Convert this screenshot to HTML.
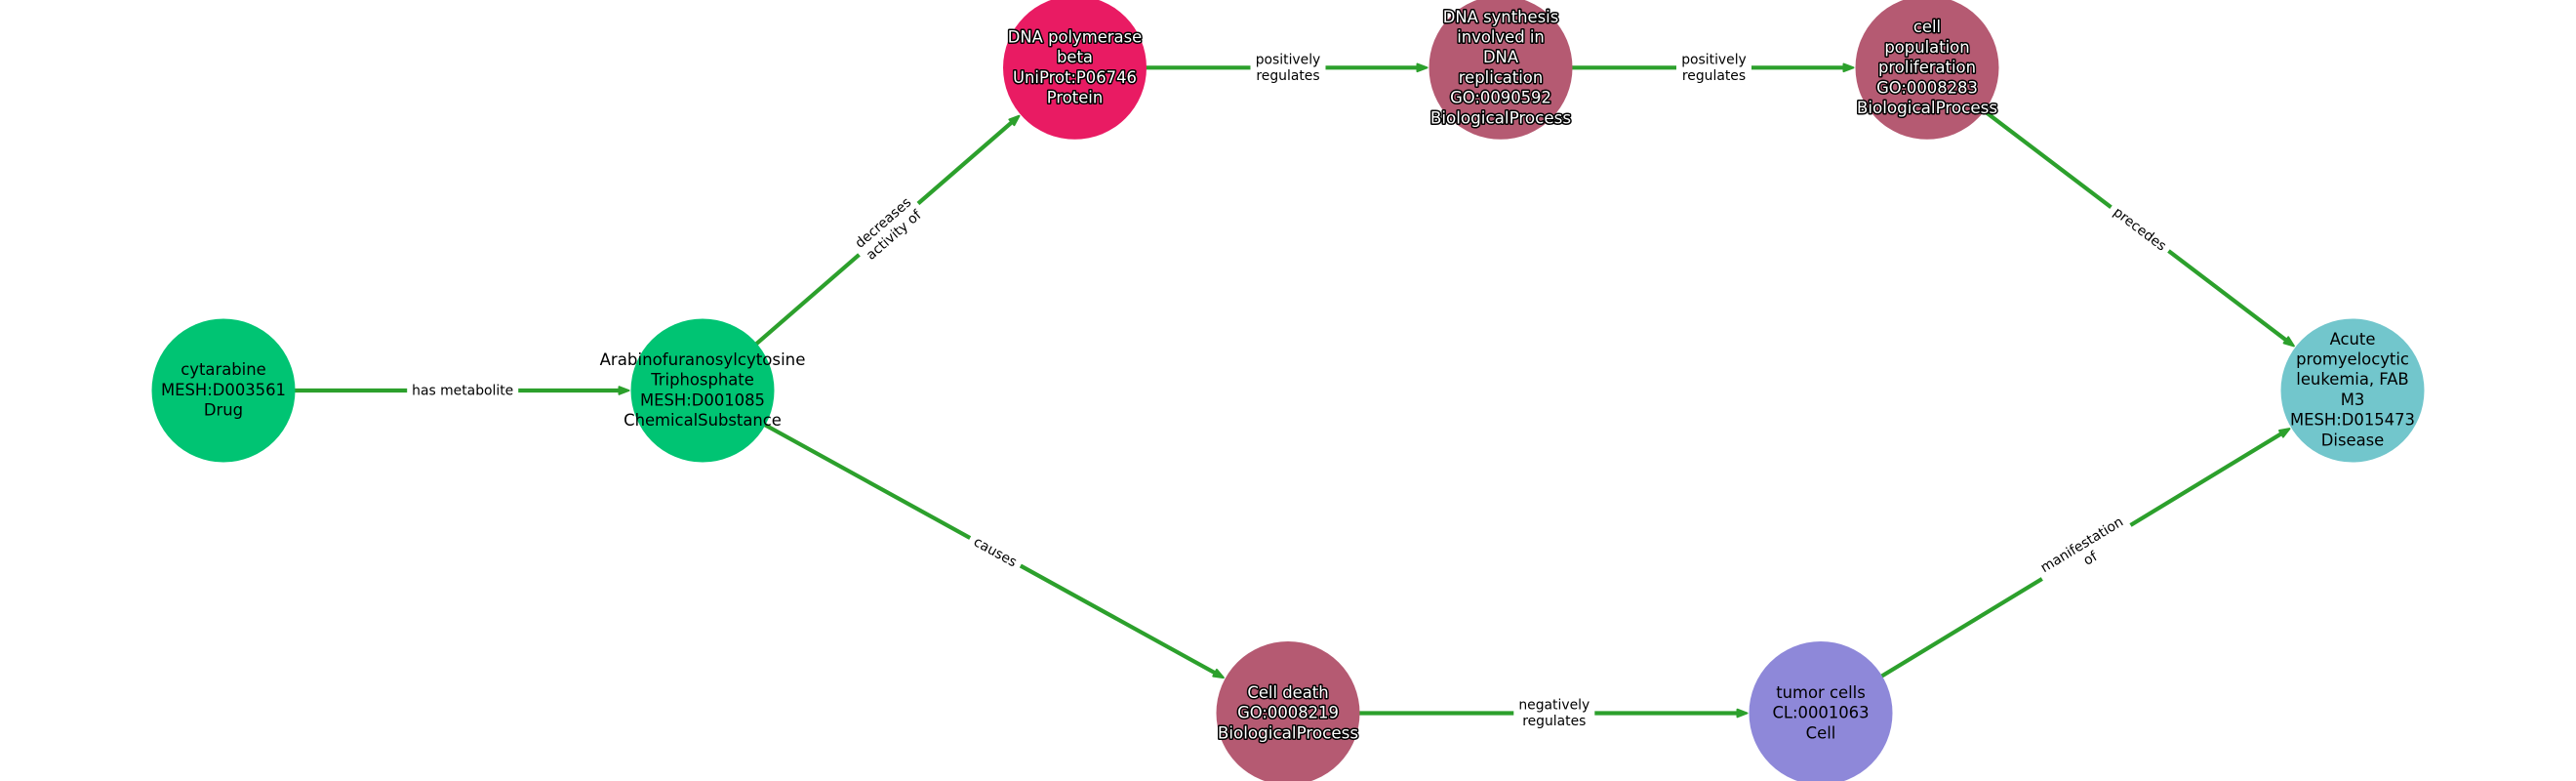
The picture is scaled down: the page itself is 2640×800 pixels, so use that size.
<!DOCTYPE html>
<html>
<head>
<meta charset="utf-8">
<style>
html,body{margin:0;padding:0;background:#fff;width:2640px;height:800px;overflow:hidden}
svg{display:block}
text{font-family:"DejaVu Sans","Liberation Sans",sans-serif;text-anchor:middle}
.n{font-size:16.4px;fill:#000}
.h{font-size:16.4px;fill:#fff;stroke:#000;stroke-width:3px;paint-order:stroke;stroke-linejoin:round}
.w{font-size:16.75px}
.x{font-size:16.6px}
.e{font-size:13.9px;fill:#000}
.l{stroke:#2ca02c;stroke-width:4.2;fill:none;marker-end:url(#a)}
</style>
</head>
<body>
<svg width="2640" height="800" viewBox="0 0 2640 800" xmlns="http://www.w3.org/2000/svg">
<defs>
<marker id="a" markerUnits="userSpaceOnUse" orient="auto" markerWidth="24" markerHeight="20" refX="0" refY="0" overflow="visible">
<path d="M-5,-3.8 L5,0 L-5,3.8Z" fill="#2ca02c" stroke="#2ca02c" stroke-width="2" stroke-linejoin="round"/>
</marker>
</defs>
<rect width="2640" height="800" fill="#fff"/>

<line class="l" x1="229" y1="400" x2="639.5" y2="400"/>
<line class="l" x1="720" y1="400" x2="1040.7" y2="122"/>
<line class="l" x1="720" y1="400" x2="1249.5" y2="691.7"/>
<line class="l" x1="1101.5" y1="69.3" x2="1457.5" y2="69.3"/>
<line class="l" x1="1538" y1="69.3" x2="1894.5" y2="69.3"/>
<line class="l" x1="1975" y1="69.3" x2="2346.9" y2="351.4"/>
<line class="l" x1="1320" y1="730.5" x2="1785.5" y2="730.5"/>
<line class="l" x1="1866" y1="730.5" x2="2342.2" y2="441.7"/>

<g transform="translate(474.2,400)"><rect x="-57" y="-12" width="114" height="24" fill="#fff"/><text class="e" y="4.5">has metabolite</text></g>
<g transform="translate(910.6,234.6) rotate(-40.9)"><rect x="-40" y="-21" width="80" height="42" fill="#fff"/><text class="e" y="-4">decreases</text><text class="e" y="12.6">activity of</text></g>
<g transform="translate(1020,565.3) rotate(28.8)"><rect x="-29.5" y="-12" width="59" height="24" fill="#fff"/><text class="e" y="4.5">causes</text></g>
<g transform="translate(1320,69.3)"><rect x="-38.5" y="-21" width="77" height="42" fill="#fff"/><text class="e" y="-4">positively</text><text class="e" y="12.6">regulates</text></g>
<g transform="translate(1756.5,69.3)"><rect x="-38.5" y="-21" width="77" height="42" fill="#fff"/><text class="e" y="-4">positively</text><text class="e" y="12.6">regulates</text></g>
<g transform="translate(2193,234.6) rotate(37.2)"><rect x="-37" y="-12" width="74" height="24" fill="#fff"/><text class="e" y="4.5">precedes</text></g>
<g transform="translate(1592.8,730.5)"><rect x="-41.5" y="-21" width="83" height="42" fill="#fff"/><text class="e" y="-4">negatively</text><text class="e" y="12.6">regulates</text></g>
<g transform="translate(2138,565.2) rotate(-31.2)"><rect x="-53" y="-21" width="106" height="42" fill="#fff"/><text class="e" y="-4">manifestation</text><text class="e" y="12.6">of</text></g>

<circle cx="229" cy="400" r="73.5" fill="#00c473"/>
<circle cx="720" cy="400" r="73.5" fill="#00c473"/>
<circle cx="1101.5" cy="69.3" r="73.5" fill="#e91b63"/>
<circle cx="1538" cy="69.3" r="73.5" fill="#b55a72"/>
<circle cx="1975" cy="69.3" r="73.5" fill="#b55a72"/>
<circle cx="1320" cy="730.5" r="73.5" fill="#b55a72"/>
<circle cx="1866" cy="730.5" r="73.5" fill="#8e88d9"/>
<circle cx="2411" cy="400" r="73.5" fill="#72c6cc"/>

<text class="n" x="229" y="384">cytarabine</text>
<text class="n" x="229" y="405">MESH:D003561</text>
<text class="n" x="229" y="425.6">Drug</text>

<text class="n x" x="720" y="374">Arabinofuranosylcytosine</text>
<text class="n" x="720" y="394.7">Triphosphate</text>
<text class="n" x="720" y="415.4">MESH:D001085</text>
<text class="n" x="720" y="436">ChemicalSubstance</text>

<text class="h" x="1101.5" y="43.5">DNA polymerase</text>
<text class="h" x="1101.5" y="64.2">beta</text>
<text class="h" x="1101.5" y="84.9">UniProt:P06746</text>
<text class="h" x="1101.5" y="105.6">Protein</text>

<text class="h" x="1538" y="22.8">DNA synthesis</text>
<text class="h" x="1538" y="43.5">involved in</text>
<text class="h" x="1538" y="64.2">DNA</text>
<text class="h" x="1538" y="84.9">replication</text>
<text class="h" x="1538" y="105.6">GO:0090592</text>
<text class="h w" x="1538" y="126.3">BiologicalProcess</text>

<text class="h" x="1975" y="33.2">cell</text>
<text class="h" x="1975" y="53.9">population</text>
<text class="h" x="1975" y="74.6">proliferation</text>
<text class="h" x="1975" y="95.3">GO:0008283</text>
<text class="h w" x="1975" y="116">BiologicalProcess</text>

<text class="h" x="1320" y="715">Cell death</text>
<text class="h" x="1320" y="735.7">GO:0008219</text>
<text class="h w" x="1320" y="756.4">BiologicalProcess</text>

<text class="n" x="1866" y="715">tumor cells</text>
<text class="n" x="1866" y="735.7">CL:0001063</text>
<text class="n" x="1866" y="756.4">Cell</text>

<text class="n" x="2411" y="352.8">Acute</text>
<text class="n" x="2411" y="373.5">promyelocytic</text>
<text class="n" x="2411" y="394.2">leukemia, FAB</text>
<text class="n" x="2411" y="414.9">M3</text>
<text class="n" x="2411" y="435.6">MESH:D015473</text>
<text class="n" x="2411" y="456.3">Disease</text>
</svg>
</body>
</html>
